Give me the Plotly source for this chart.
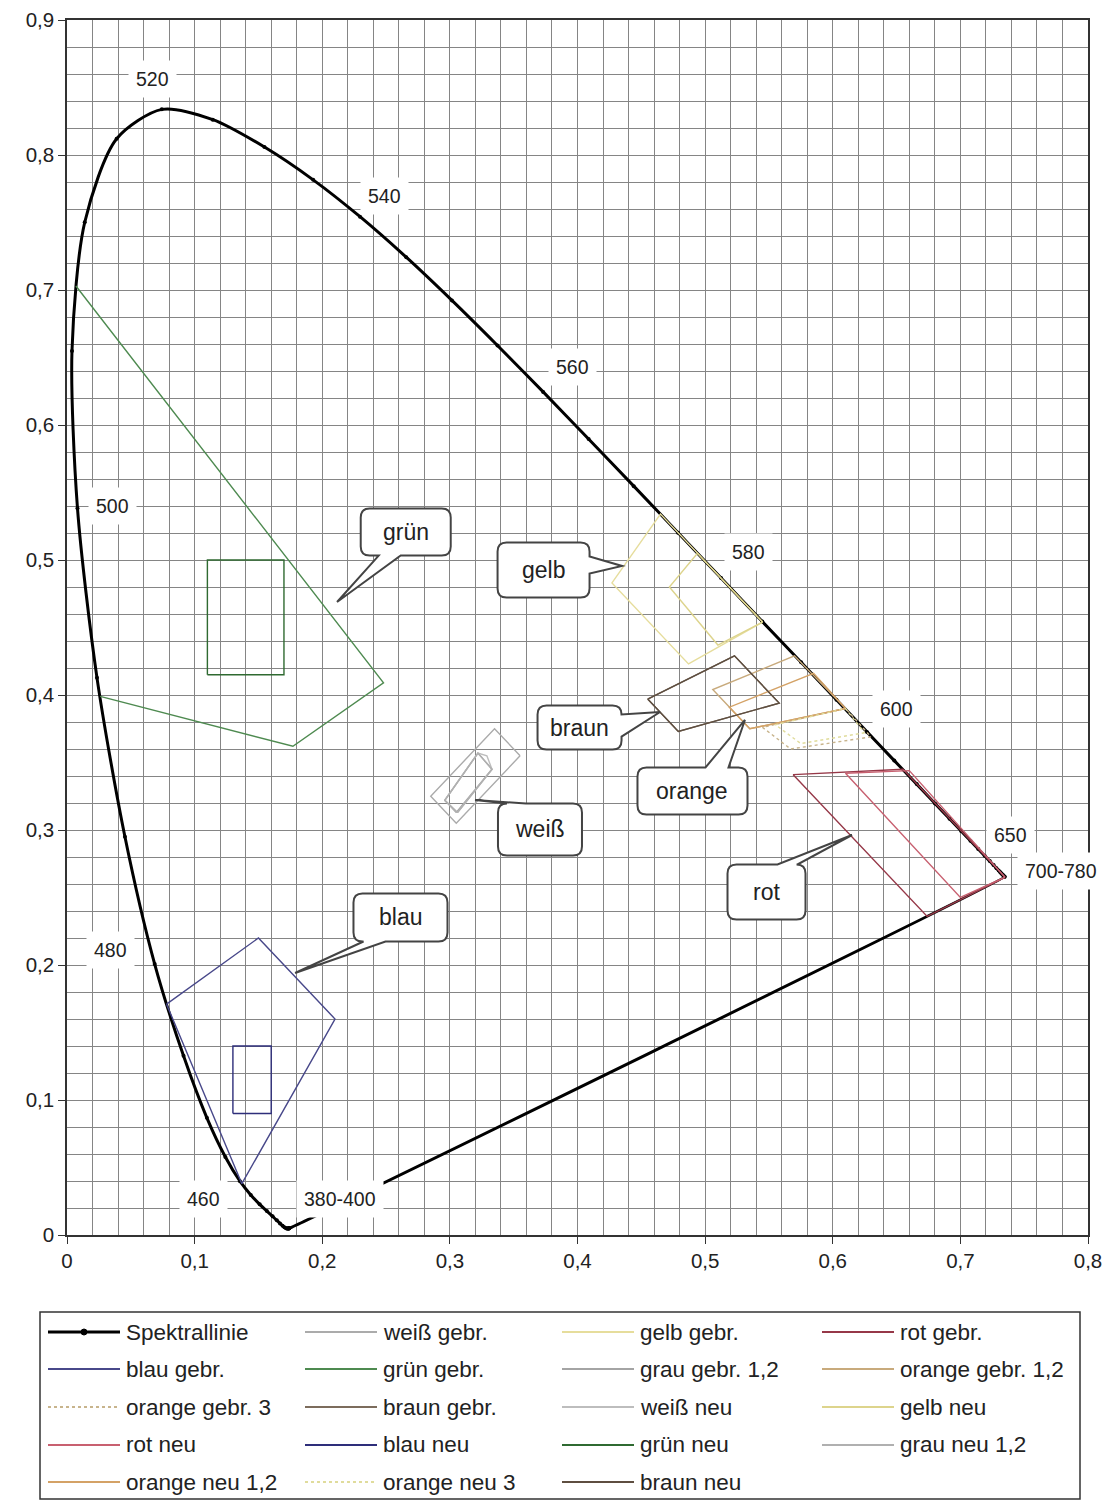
import plotly.graph_objects as go

# ---------------- data ----------------
# CIE 1931 spectral locus, 380..700 nm in 5 nm steps (700-780 coincide)
locus_wl = list(range(380, 705, 5))
locus_x = [0.1741, 0.1740, 0.1738, 0.1736, 0.1733, 0.1730, 0.1726, 0.1721, 0.1714, 0.1703,
           0.1689, 0.1669, 0.1644, 0.1611, 0.1566, 0.1510, 0.1440, 0.1355, 0.1241, 0.1096,
           0.0913, 0.0687, 0.0454, 0.0235, 0.0082, 0.0039, 0.0139, 0.0389, 0.0743, 0.1142,
           0.1547, 0.1929, 0.2296, 0.2658, 0.3016, 0.3373, 0.3731, 0.4087, 0.4441, 0.4788,
           0.5125, 0.5448, 0.5752, 0.6029, 0.6270, 0.6482, 0.6658, 0.6801, 0.6915, 0.7006,
           0.7079, 0.7140, 0.7190, 0.7230, 0.7260, 0.7283, 0.7300, 0.7311, 0.7320, 0.7327,
           0.7334, 0.7340, 0.7344, 0.7346, 0.7347]
locus_y = [0.0050, 0.0050, 0.0049, 0.0049, 0.0048, 0.0048, 0.0048, 0.0048, 0.0051, 0.0058,
           0.0069, 0.0086, 0.0109, 0.0138, 0.0177, 0.0227, 0.0297, 0.0399, 0.0578, 0.0868,
           0.1327, 0.2007, 0.2950, 0.4127, 0.5384, 0.6548, 0.7502, 0.8120, 0.8338, 0.8262,
           0.8059, 0.7816, 0.7543, 0.7243, 0.6923, 0.6589, 0.6245, 0.5896, 0.5547, 0.5202,
           0.4866, 0.4544, 0.4242, 0.3965, 0.3725, 0.3514, 0.3340, 0.3197, 0.3083, 0.2993,
           0.2920, 0.2859, 0.2809, 0.2770, 0.2740, 0.2717, 0.2700, 0.2689, 0.2680, 0.2673,
           0.2666, 0.2660, 0.2656, 0.2654, 0.2653]

# colour regions (x list, y list); corners in drawing order
weiss_gebr_x = [0.355, 0.305, 0.285, 0.335]
weiss_gebr_y = [0.355, 0.305, 0.325, 0.375]
gelb_gebr_x = [0.545, 0.487, 0.427, 0.465]
gelb_gebr_y = [0.454, 0.423, 0.483, 0.534]
rot_gebr_x = [0.735, 0.674, 0.569, 0.655]
rot_gebr_y = [0.265, 0.236, 0.341, 0.345]
blau_gebr_x = [0.078, 0.150, 0.210, 0.137]
blau_gebr_y = [0.171, 0.220, 0.160, 0.038]
gruen_gebr_x = [0.007, 0.248, 0.177, 0.026]
gruen_gebr_y = [0.703, 0.409, 0.362, 0.399]
grau_gebr_x = [0.305, 0.333, 0.322, 0.296]
grau_gebr_y = [0.313, 0.345, 0.357, 0.322]
orange_gebr12_x = [0.610, 0.535, 0.506, 0.570]
orange_gebr12_y = [0.390, 0.375, 0.404, 0.429]
orange_gebr3_x = [0.630, 0.567, 0.545, 0.610]
orange_gebr3_y = [0.369, 0.360, 0.376, 0.390]
braun_gebr_x = [0.455, 0.523, 0.558, 0.479]
braun_gebr_y = [0.397, 0.429, 0.394, 0.373]
weiss_neu_x = [0.306, 0.333, 0.329, 0.322, 0.296]
weiss_neu_y = [0.313, 0.345, 0.355, 0.357, 0.322]
gelb_neu_x = [0.545, 0.510, 0.472, 0.494]
gelb_neu_y = [0.454, 0.437, 0.480, 0.505]
rot_neu_x = [0.735, 0.700, 0.610, 0.660]
rot_neu_y = [0.265, 0.250, 0.342, 0.344]
blau_neu_x = [0.130, 0.160, 0.160, 0.130]
blau_neu_y = [0.090, 0.090, 0.140, 0.140]
gruen_neu_x = [0.110, 0.170, 0.170, 0.110]
gruen_neu_y = [0.415, 0.415, 0.500, 0.500]
grau_neu_x = [0.306, 0.333, 0.322, 0.296]
grau_neu_y = [0.313, 0.345, 0.357, 0.322]
orange_neu12_x = [0.610, 0.535, 0.519, 0.585]
orange_neu12_y = [0.390, 0.375, 0.391, 0.416]
orange_neu3_x = [0.625, 0.575, 0.555, 0.610]
orange_neu3_y = [0.372, 0.364, 0.378, 0.390]
braun_neu_x = [0.455, 0.523, 0.558, 0.479]
braun_neu_y = [0.397, 0.429, 0.394, 0.373]

x_tickvals = [0, 0.1, 0.2, 0.3, 0.4, 0.5, 0.6, 0.7, 0.8]
x_ticktext = ["0", "0,1", "0,2", "0,3", "0,4", "0,5", "0,6", "0,7", "0,8"]
y_tickvals = [0, 0.1, 0.2, 0.3, 0.4, 0.5, 0.6, 0.7, 0.8, 0.9]
y_ticktext = ["0", "0,1", "0,2", "0,3", "0,4", "0,5", "0,6", "0,7", "0,8", "0,9"]

# wavelength labels (text, x, y)
wl_labels = ["520", "540", "560", "580", "600", "650", "700-780", "500", "480", "460", "380-400"]
wl_label_x = [0.067, 0.249, 0.396, 0.534, 0.650, 0.739, 0.779, 0.036, 0.034, 0.107, 0.214]
wl_label_y = [0.856, 0.770, 0.643, 0.506, 0.390, 0.296, 0.270, 0.540, 0.211, 0.027, 0.027]

# callout bubbles: text, centre x/y, tip x/y
bubble_text = ["grün", "gelb", "braun", "orange", "weiß", "rot", "blau"]
bubble_cx = [0.2654, 0.3734, 0.4016, 0.4901, 0.3706, 0.5481, 0.2613]
bubble_cy = [0.5207, 0.4926, 0.3759, 0.3289, 0.3004, 0.2541, 0.2352]
bubble_tipx = [0.2116, 0.4349, 0.4647, 0.5312, 0.3197, 0.6151, 0.1787]
bubble_tipy = [0.4689, 0.4956, 0.3874, 0.3815, 0.3222, 0.2963, 0.1941]
# bubble style: size (px) and wedge side / base offsets (px)
bubble_w = [90, 92, 84, 110, 84, 78, 94]
bubble_h = [47, 55, 44, 47, 52, 55, 48]
bubble_side = ["bottom", "right", "right", "top", "top", "top", "bottom"]
bubble_o1 = [18, 14, 9, 68, 9, 50, 10]
bubble_o2 = [40, 31, 31, 91, 28, 70, 32]

# ---------------- figure ----------------
FONT = "Liberation Sans, Arial, sans-serif"
# page body has an 8 px margin: the figure occupies 8..1110 x 8..1501
W, H = 1102, 1493
ML, MR, MT, MB = 59, 22, 12, 266
XR, YR = [0, 0.8], [0, 0.9]
PW, PH = W - ML - MR, H - MT - MB
PX_X = PW / (XR[1] - XR[0])
PX_Y = PH / (YR[1] - YR[0])

fig = go.Figure()

fig.add_trace(go.Scatter(
    x=locus_x + [locus_x[0]], y=locus_y + [locus_y[0]],
    mode="lines+markers", name="Spektrallinie",
    line=dict(color="black", width=3, shape="spline", smoothing=0.8),
    marker=dict(color="black", size=4),
    text=[str(w) for w in locus_wl] + ["380"],
    hovertemplate="%{text} nm<br>x=%{x}<br>y=%{y}<extra></extra>"))

# name, x, y, colour, dash, closed outline?
series = [
    ("weiß gebr.", weiss_gebr_x, weiss_gebr_y, "#ababab", "solid", True),
    ("gelb gebr.", gelb_gebr_x, gelb_gebr_y, "#e6dd9c", "solid", True),
    ("rot gebr.", rot_gebr_x, rot_gebr_y, "#963848", "solid", True),
    ("blau gebr.", blau_gebr_x, blau_gebr_y, "#48488a", "solid", True),
    ("grün gebr.", gruen_gebr_x, gruen_gebr_y, "#4e8a50", "solid", False),
    ("grau gebr. 1,2", grau_gebr_x, grau_gebr_y, "#a4a4a4", "solid", True),
    ("orange gebr. 1,2", orange_gebr12_x, orange_gebr12_y, "#c8aa7c", "solid", True),
    ("orange gebr. 3", orange_gebr3_x, orange_gebr3_y, "#c8b48c", "dot", True),
    ("braun gebr.", braun_gebr_x, braun_gebr_y, "#7c6c5c", "solid", True),
    ("weiß neu", weiss_neu_x, weiss_neu_y, "#bdbdbd", "solid", True),
    ("gelb neu", gelb_neu_x, gelb_neu_y, "#ddd48c", "solid", True),
    ("rot neu", rot_neu_x, rot_neu_y, "#c86070", "solid", True),
    ("blau neu", blau_neu_x, blau_neu_y, "#2e2e7a", "solid", True),
    ("grün neu", gruen_neu_x, gruen_neu_y, "#2f6a31", "solid", True),
    ("grau neu 1,2", grau_neu_x, grau_neu_y, "#b0b0b0", "solid", True),
    ("orange neu 1,2", orange_neu12_x, orange_neu12_y, "#d4a266", "solid", True),
    ("orange neu 3", orange_neu3_x, orange_neu3_y, "#e0dc9c", "dot", True),
    ("braun neu", braun_neu_x, braun_neu_y, "#5e4e40", "solid", True),
]
for name, xs, ys, col, dash, closed in series:
    px_ = xs + [xs[0]] if closed else xs
    py_ = ys + [ys[0]] if closed else ys
    fig.add_trace(go.Scatter(
        x=px_, y=py_, mode="lines", name=name,
        line=dict(color=col, width=1.4, dash=dash),
        hovertemplate=name + "<br>x=%{x}<br>y=%{y}<extra></extra>"))

# wavelength labels
for t, lx, ly in zip(wl_labels, wl_label_x, wl_label_y):
    fig.add_annotation(x=lx, y=ly, text=t, showarrow=False,
                       font=dict(family=FONT, size=19.5, color="#222"),
                       bgcolor="white", borderpad=7)


def bubble_path(cx, cy, w, h, side, o1, o2, tx, ty, r=9):
    def P(dx, dy):
        return "%.5f,%.5f" % (cx + dx / PX_X, cy - dy / PX_Y)
    tip = "%.5f,%.5f" % (tx, ty)
    L, R, T, B = -w / 2, w / 2, -h / 2, h / 2
    p = "M" + P(L + r, T)
    if side == "top":
        p += " L" + P(L + o1, T) + " L" + tip + " L" + P(L + o2, T)
    p += " L" + P(R - r, T) + " Q" + P(R, T) + " " + P(R, T + r)
    if side == "right":
        p += " L" + P(R, T + o1) + " L" + tip + " L" + P(R, T + o2)
    p += " L" + P(R, B - r) + " Q" + P(R, B) + " " + P(R - r, B)
    if side == "bottom":
        p += " L" + P(L + o2, B) + " L" + tip + " L" + P(L + o1, B)
    p += " L" + P(L + r, B) + " Q" + P(L, B) + " " + P(L, B - r)
    if side == "left":
        p += " L" + P(L, T + o2) + " L" + tip + " L" + P(L, T + o1)
    p += " L" + P(L, T + r) + " Q" + P(L, T) + " " + P(L + r, T) + " Z"
    return p


for i, t in enumerate(bubble_text):
    fig.add_shape(type="path", xref="x", yref="y",
                  path=bubble_path(bubble_cx[i], bubble_cy[i], bubble_w[i], bubble_h[i],
                                   bubble_side[i], bubble_o1[i], bubble_o2[i],
                                   bubble_tipx[i], bubble_tipy[i]),
                  fillcolor="white", line=dict(color="#444", width=2), layer="above")
    fig.add_annotation(x=bubble_cx[i], y=bubble_cy[i], text=t, showarrow=False,
                       font=dict(family=FONT, size=23, color="#222"))

# ---------------- legend box (drawn below the plot, 4 columns) ----------------
def pxx(px):  # page px -> paper x
    return (px - 8 - ML) / PW


def pxy(py):  # page px -> paper y
    return (H - MB - (py - 8)) / PH


fig.add_shape(type="rect", xref="paper", yref="paper",
              x0=pxx(40), x1=pxx(1080), y0=pxy(1499), y1=pxy(1312),
              line=dict(color="#333", width=1.5), fillcolor="white", layer="above")
leg_col_x = [48, 305, 562, 822]
leg_row_y = [1332, 1369, 1407, 1445, 1482]
leg_items = [("Spektrallinie", "black", "solid")] + [(s[0], s[3], s[4]) for s in series]
for k, (name, col, dash) in enumerate(leg_items):
    cx0 = leg_col_x[k % 4]
    ry = leg_row_y[k // 4]
    width = 3 if name == "Spektrallinie" else 2.2
    fig.add_shape(type="line", xref="paper", yref="paper",
                  x0=pxx(cx0), x1=pxx(cx0 + 72), y0=pxy(ry), y1=pxy(ry),
                  line=dict(color=col, width=width, dash=dash), layer="above")
    if name == "Spektrallinie":
        fig.add_shape(type="circle", xref="paper", yref="paper",
                      x0=pxx(cx0 + 33), x1=pxx(cx0 + 39), y0=pxy(ry + 3), y1=pxy(ry - 3),
                      fillcolor="black", line=dict(color="black", width=1), layer="above")
    fig.add_annotation(xref="paper", yref="paper", x=pxx(cx0 + 76), y=pxy(ry),
                       xanchor="left", yanchor="middle", text=name, showarrow=False,
                       font=dict(family=FONT, size=22.5, color="#222"))

grid = "#858585"
axis_common = dict(
    showgrid=True, gridcolor=grid, gridwidth=1,
    minor=dict(dtick=0.02, showgrid=True, gridcolor=grid, gridwidth=1),
    showline=True, linecolor="#333", linewidth=1.5, mirror=True,
    ticks="outside", ticklen=7, tickcolor="#333", tickwidth=1,
    tickfont=dict(family=FONT, size=20.5, color="#222"),
    zeroline=False,
)
fig.update_xaxes(range=XR, tickvals=x_tickvals, ticktext=x_ticktext, **axis_common)
fig.update_yaxes(range=YR, tickvals=y_tickvals, ticktext=y_ticktext, **axis_common)

fig.update_layout(
    width=W, height=H,
    margin=dict(l=ML, r=MR, t=MT, b=MB, autoexpand=False),
    paper_bgcolor="white", plot_bgcolor="white",
    font=dict(family=FONT, color="#222"),
    separators=",.",
    showlegend=False,
)

fig.write_html("out.html")
